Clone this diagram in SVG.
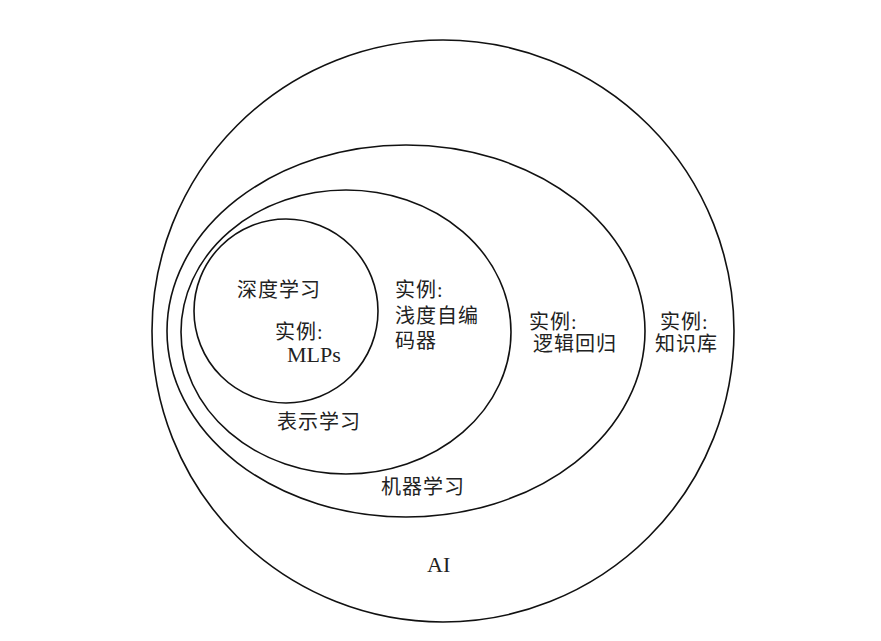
<svg xmlns="http://www.w3.org/2000/svg" width="881" height="641" viewBox="0 0 881 641">
<style>
.s{fill:none;stroke:#111;stroke-width:1.6}
.t{font-family:"Liberation Serif","Noto Sans CJK SC",serif;font-size:20px;letter-spacing:1px;fill:#222}
.l{font-family:"Liberation Serif",serif;font-size:22px;fill:#222}
</style>
<rect width="881" height="641" fill="#fff"/>
<g id="ai">
<circle class="s" cx="443" cy="331" r="291"/>
<text class="l" x="427" y="572" font-size="24">AI</text>
<text class="t" x="660" y="329">实例:</text>
<text class="t" x="655" y="351">知识库</text>
</g>
<g id="ml">
<ellipse class="s" cx="406" cy="331" rx="239" ry="186"/>
<text class="t" x="381" y="494">机器学习</text>
<text class="t" x="529" y="329">实例:</text>
<text class="t" x="533" y="351">逻辑回归</text>
</g>
<g id="rep">
<ellipse class="s" cx="346" cy="332" rx="165" ry="142"/>
<text class="t" x="277" y="429">表示学习</text>
<text class="t" x="395" y="297">实例:</text>
<text class="t" x="395" y="323">浅度自编</text>
<text class="t" x="395" y="348">码器</text>
</g>
<g id="dl">
<circle class="s" cx="286" cy="311" r="92"/>
<text class="t" x="237" y="297">深度学习</text>
<text class="t" x="275" y="339">实例:</text>
<text class="l" x="287" y="362">MLPs</text>
</g>
<g id="connectors"></g>
</svg>
